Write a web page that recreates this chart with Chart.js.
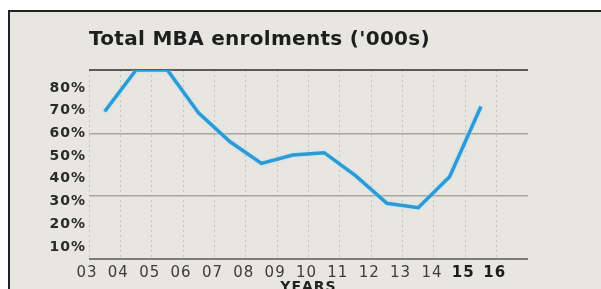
<!DOCTYPE html>
<html>
<head>
<meta charset="utf-8">
<script src="https://cdn.jsdelivr.net/npm/chart.js@4.4.0/dist/chart.umd.min.js"></script>
<style>
  html, body { margin: 0; padding: 0; background: #fff; }
  #wrap { position: relative; width: 601px; height: 289px; overflow: hidden; }
  #frame { position: absolute; left: 8px; top: 10px; right: 0; bottom: 0;
           border-left: 2px solid #222; border-top: 2px solid #222; background: #e8e6e1; }
  canvas { position: absolute; left: 0; top: 0; }
</style>
</head>
<body>
<div id="wrap">
  <div id="frame"></div>
  <canvas id="mbaChart" width="601" height="289"></canvas>
</div>
<script>
// chart data
const chartTitle = "Total MBA enrolments ('000s)";
const years = ['03', '04', '05', '06', '07', '08', '09', '10', '11', '12', '13', '14', '15', '16'];
const boldYears = ['15', '16'];
// one value per year, plotted midway between the year lines
const enrolments = [69.6, 87.9, 87.9, 68.9, 56.3, 46.8, 50.5, 51.5, 41.4, 29.2, 27.3, 40.9, 71.8];
const yLabels = [10, 20, 30, 40, 50, 60, 70, 80];
const solidLines = [60, 32.4];
const yMin = 4.7;
const yMax = 87.9;

// letter spacing for the stretched look of the original, title, and a soft glow on the line
const stylePlugin = {
    id: 'style',
    beforeDraw(chart) {
        chart.ctx.letterSpacing = '1px';
    },
    beforeDatasetsDraw(chart) {
        const ctx = chart.ctx;
        ctx.save();
        ctx.shadowColor = 'rgba(175, 225, 250, 0.9)';
        ctx.shadowBlur = 3;
    },
    afterDatasetsDraw(chart) {
        chart.ctx.restore();
    },
    afterDraw(chart) {
        const ctx = chart.ctx;
        ctx.save();
        ctx.letterSpacing = '0.3px';
        ctx.font = 'bold 20px "DejaVu Sans"';
        ctx.fillStyle = '#1e1e1e';
        ctx.textBaseline = 'middle';
        ctx.textAlign = 'left';
        ctx.fillText(chartTitle, chart.chartArea.left, 40);
        ctx.restore();
    }
};

function isBold(c) {
    return !!(c && c.tick && boldYears.includes(years[c.tick.value]));
}

function gridColor(v) {
    if (v === yMax) return '#5c5b58';
    if (v === yMin) return '#7d7b77';
    if (solidLines.includes(v)) return '#a9a69f';
    return 'rgba(0,0,0,0)';
}

const ctx = document.getElementById('mbaChart').getContext('2d');
new Chart(ctx, {
    type: 'line',
    data: {
        datasets: [{
            data: enrolments.map((v, i) => ({ x: i + 0.5, y: v })),
            borderColor: '#2b9ad5',
            borderWidth: 3.5,
            pointRadius: 0,
            tension: 0,
            fill: false
        }]
    },
    options: {
        responsive: false,
        animation: false,
        layout: { padding: { top: 70, right: 73, left: 0, bottom: 0 } },
        plugins: {
            legend: { display: false },
            tooltip: { enabled: false },
            title: { display: false }
        },
        scales: {
            x: {
                type: 'linear',
                min: 0,
                max: 14,
                afterBuildTicks: s => { s.ticks = years.map((_, i) => ({ value: i })).concat([{ value: 14 }]); },
                afterFit: s => { s.height = 30; },
                grid: {
                    color: c => (c.tick && c.tick.value < 14) ? '#c5c2bb' : 'rgba(0,0,0,0)',
                    lineWidth: 1,
                    drawTicks: false
                },
                border: { display: false, dash: [2, 3] },
                ticks: {
                    autoSkip: false,
                    maxRotation: 0,
                    padding: 5,
                    labelOffset: -2,
                    callback: v => years[v] ?? '',
                    font: c => ({
                        family: 'DejaVu Sans',
                        size: 15,
                        weight: isBold(c) ? 'bold' : 'normal'
                    }),
                    color: c => isBold(c) ? '#1e1e1e' : '#3c3c3c'
                },
                title: {
                    display: true,
                    text: 'YEARS',
                    color: '#222',
                    font: { family: 'DejaVu Sans', size: 14, weight: 'bold' },
                    padding: { top: 0, bottom: -7 }
                }
            },
            y: {
                min: yMin,
                max: yMax,
                afterBuildTicks: s => {
                    s.ticks = [yMin, ...yLabels, ...solidLines, yMax]
                        .filter((v, i, a) => a.indexOf(v) === i)
                        .sort((a, b) => a - b)
                        .map(v => ({ value: v }));
                },
                afterFit: s => { s.width = 89; },
                grid: {
                    color: c => c.tick ? gridColor(c.tick.value) : 'rgba(0,0,0,0)',
                    lineWidth: c => (c.tick && (c.tick.value === yMax || c.tick.value === yMin)) ? 2 : 1.5,
                    drawTicks: false
                },
                border: { display: false },
                ticks: {
                    autoSkip: false,
                    padding: 3,
                    callback: v => yLabels.includes(v) ? v + '%' : '',
                    font: { family: 'DejaVu Sans', size: 14, weight: 'bold' },
                    color: '#2a2a2a'
                }
            }
        }
    },
    plugins: [stylePlugin]
});
</script>
</body>
</html>
